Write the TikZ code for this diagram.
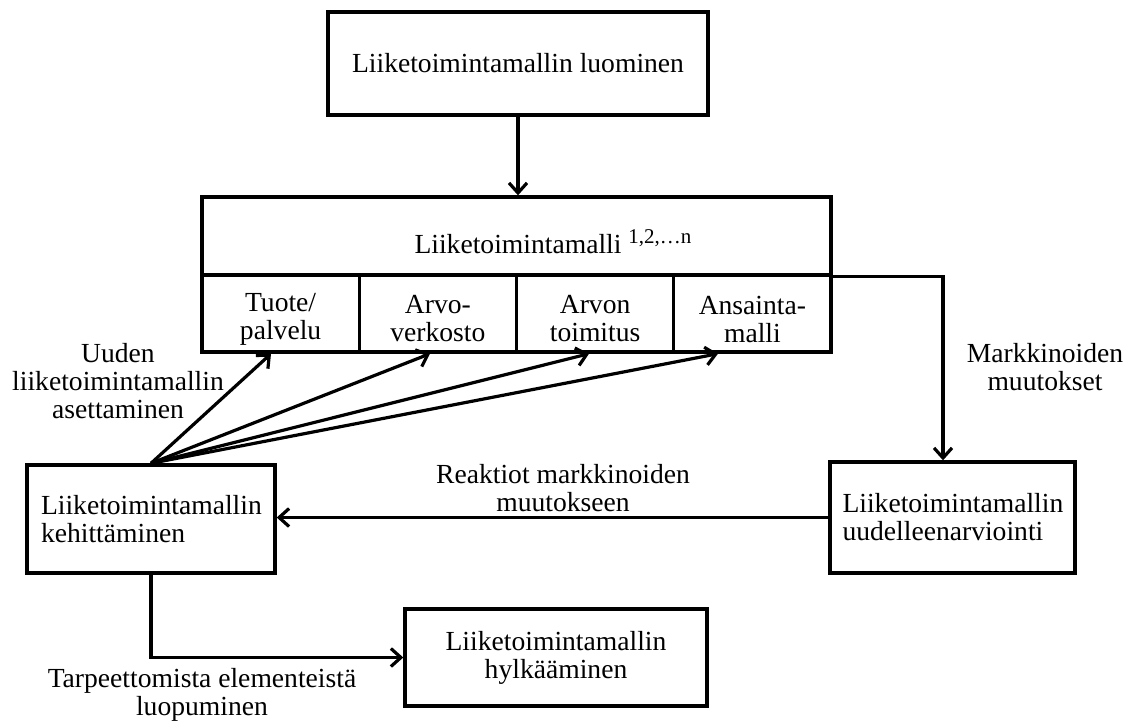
\documentclass[tikz,border=0pt]{standalone}
\usepackage{fontspec}
\setmainfont{Liberation Serif}
\usetikzlibrary{arrows.meta}
\begin{document}
\begin{tikzpicture}[x=0.5pt,y=-0.5pt,
  every node/.style={font=\fontsize{13.8}{14}\selectfont},
  box/.style={draw, line width=1.7pt, inner sep=0pt},
  conn/.style={line width=1.6pt},
  arr/.style={conn, -{Straight Barb[length=5pt,width=9pt]}},
  txt/.style={align=center, inner sep=0pt}]
\useasboundingbox (0,0) rectangle (1130,720);

% boxes
\node[box, minimum width=190pt, minimum height=51.5pt] (top) at (518,63.5) {Liiketoimintamallin luominen};
\node[box, minimum width=314.5pt, minimum height=39pt] (title) at (516.5,236) {};
\node[anchor=base, inner sep=0pt] (titletext) at (518,253) {Liiketoimintamalli\rlap{\hspace{3.5pt}\raisebox{5pt}{\fontsize{10.5}{11}\selectfont 1,2,\ldots n}}};

\node[box, minimum width=78.625pt, minimum height=38.5pt] (c1) at (280.6,313.5) {};
\node[box, minimum width=78.625pt, minimum height=38.5pt] (c2) at (437.9,313.5) {};
\node[box, minimum width=78.625pt, minimum height=38.5pt] (c3) at (595.1,313.5) {};
\node[box, minimum width=78.625pt, minimum height=38.5pt] (c4) at (752.4,313.5) {};
\node[txt, yshift=-2.75pt] (t1) at (c1) {Tuote/\\palvelu};
\node[txt, yshift=-2.75pt] (t2) at (c2) {Arvo-\\verkosto};
\node[txt, yshift=-2.75pt] (t3) at (c3) {Arvon\\toimitus};
\node[txt, yshift=-2.75pt] (t4) at (c4) {Ansainta-\\malli};

\node[box, minimum width=124pt, minimum height=54pt, text width=110pt, align=left] (dev) at (151,519) {Liiketoimintamallin\\kehittäminen};
\node[box, minimum width=122.5pt, minimum height=55.5pt, text width=110pt, align=left] (reval) at (952.5,517.5) {Liiketoimintamallin\\uudelleenarviointi};
\node[box, minimum width=151pt, minimum height=48.5pt, align=center] (reject) at (556,657.5) {Liiketoimintamallin\\hylkääminen};

% labels
\node[txt] (lbl1) at (118,381) {Uuden\\liiketoimintamallin\\asettaminen};
\node[txt] (lbl2) at (1045,367) {Markkinoiden\\muutokset};
\node[txt] (lbl3) at (563,488.5) {Reaktiot markkinoiden\\muutokseen};
\node[txt] (lbl4) at (202,695) {Tarpeettomista elementeistä\\luopuminen};

% connectors
\draw[arr] (top.south) -- (top.south |- title.north);
\draw[arr] (title.south east) -| ([xshift=-4.75pt]reval.north);
\draw[arr] (reval.west) -- (reval.west -| dev.east);
\draw[arr] (dev.south) |- (reject.west);
\draw[arr] (dev.north) -- ([xshift=-4.8pt]c1.south);
\draw[arr] (dev.north) -- ([xshift=-3.95pt]c2.south);
\draw[arr] (dev.north) -- ([xshift=-3.05pt]c3.south);
\draw[arr] (dev.north) -- ([xshift=-17.2pt]c4.south);
\end{tikzpicture}
\end{document}
